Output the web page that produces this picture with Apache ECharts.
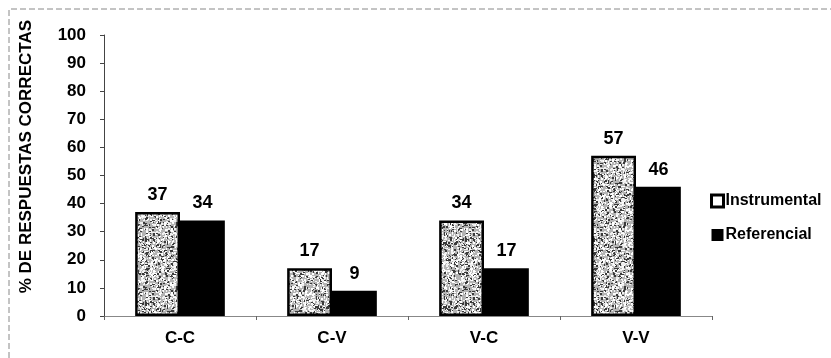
<!DOCTYPE html>
<html lang="es">
  <head>
    <meta charset="UTF-8" />
    <title>% de respuestas correctas</title>
    <style>
      * {
        margin: 0;
        padding: 0;
      }
      body {
        background: #fff;
      }
    </style>
  </head>
  <body>
    <div id="main" style="width: 831px; height: 358px;"></div>
    <script src="https://cdn.jsdelivr.net/npm/echarts@6/dist/echarts.min.js"></script>
    <script>
      // datos
      let categorias = ["C-C", "C-V", "V-C", "V-V"];
      let instrumental = [37, 17, 34, 57];
      let referencial = [34, 9, 17, 46];
      let ticksY = [0, 10, 20, 30, 40, 50, 60, 70, 80, 90, 100];

      // textura punteada (tipo escaneo) para las barras "Instrumental"
      function textura() {
        let c = document.createElement("canvas");
        c.width = 64;
        c.height = 64;
        let ctx = c.getContext("2d");
        ctx.fillStyle = "#b4b4b4";
        ctx.fillRect(0, 0, 64, 64);
        let s = 98765;
        function sig() {
          s = (s * 1103515245 + 12345) % 2147483648;
          return Math.floor(s / 65536);
        }
        for (let i = 0; i < 1500; i++) {
          let x = sig() % 64;
          let y = sig() % 64;
          let k = sig() % 3;
          ctx.fillStyle = k == 0 ? "#ffffff" : k == 1 ? "#f0f0f0" : "#3a3a3a";
          ctx.fillRect(x, y, 1 + (sig() % 2), 1 + (sig() % 2));
        }
        return c;
      }

      function draw() {
        let myEcharts = echarts.init(document.getElementById("main"));
        let fuente = "Liberation Sans";
        let patron = textura();
        let etiqueta = {
          show: true,
          position: "top",
          distance: 8,
          fontSize: 18,
          fontWeight: "bold",
          color: "#000",
        };
        let option = {
          animation: false,
          textStyle: { fontFamily: fuente },
          grid: { left: 104, right: 119, top: 35, bottom: 42 },
          legend: {
            orient: "vertical",
            left: 705,
            top: 188,
            icon: "rect",
            itemWidth: 12,
            itemHeight: 12,
            itemGap: 18,
            textStyle: { fontSize: 16, fontWeight: "bold", color: "#000", padding: [0, 0, 0, -3] },
            data: [
              { name: "Instrumental", itemStyle: { color: "#fff", borderColor: "#000", borderWidth: 3 } },
              { name: "Referencial", itemStyle: { color: "#000" } },
            ],
          },
          xAxis: {
            type: "category",
            data: categorias,
            axisLine: { lineStyle: { color: "#888", width: 1 } },
            axisTick: { show: true, length: 4, lineStyle: { color: "#666" } },
            axisLabel: { fontSize: 17, fontWeight: "bold", color: "#000", margin: 14 },
          },
          yAxis: {
            type: "value",
            min: ticksY[0],
            max: ticksY[ticksY.length - 1],
            interval: 10,
            splitLine: { show: false },
            axisLine: { show: true, lineStyle: { color: "#444", width: 1 } },
            axisTick: { show: true, length: 4, lineStyle: { color: "#444" } },
            axisLabel: { fontSize: 17, fontWeight: "bold", color: "#000", margin: 18 },
          },
          graphic: [
            {
              type: "text",
              left: 18,
              top: 20,
              rotation: Math.PI / 2,
              style: {
                text: "% DE RESPUESTAS CORRECTAS",
                font: "bold 17px Liberation Sans",
                fill: "#000",
              },
            },
            {
              type: "polyline",
              silent: true,
              shape: { points: [[9, 358], [9, 9], [831, 9]] },
              style: { stroke: "#888", lineWidth: 1, lineDash: [6, 3], fill: null },
            },
          ],
          series: [
            {
              name: "Instrumental",
              type: "bar",
              data: instrumental,
              barGap: "0%",
              barCategoryGap: "41%",
              itemStyle: {
                color: { image: patron, repeat: "repeat" },
                borderColor: "#000",
                borderWidth: 2.5,
              },
              label: etiqueta,
            },
            {
              name: "Referencial",
              type: "bar",
              data: referencial,
              itemStyle: { color: "#000" },
              label: etiqueta,
            },
          ],
        };
        myEcharts.setOption(option);
      }
      draw();
    </script>
  </body>
</html>
